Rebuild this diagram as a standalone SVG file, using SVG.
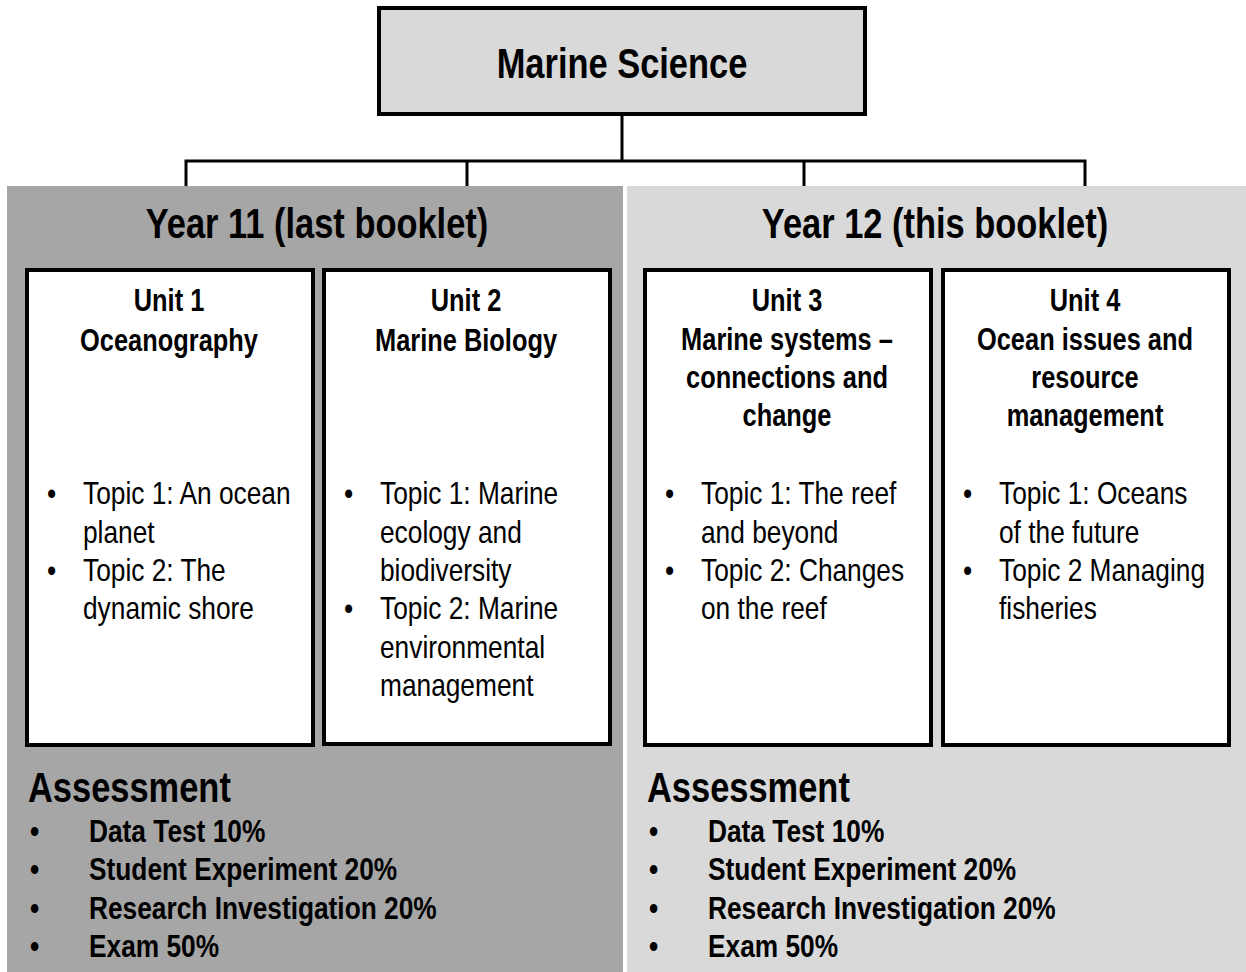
<svg xmlns="http://www.w3.org/2000/svg" width="1246" height="972" viewBox="0 0 1246 972">
<style>
text{font-family:"Liberation Sans",Arial,sans-serif;fill:#000}
.big{font-size:42px;font-weight:bold}
.mid{text-anchor:middle}
.hd{font-size:31px;font-weight:bold;text-anchor:middle}
.tp{font-size:31.5px}
.it{font-size:31.5px;font-weight:bold}
.box{fill:#fff;stroke:#000;stroke-width:4}
.con{stroke:#000;stroke-width:3;fill:none}
</style>
<rect x="0" y="0" width="1246" height="972" fill="#fff"/>
<g id="panel-year11">
<rect x="7" y="186" width="616" height="786" fill="#a6a6a6"/>
<text class="big mid" transform="translate(317 238) scale(0.82 1)">Year 11 (last booklet)</text>
</g>
<g id="panel-year12">
<rect x="627" y="186" width="619" height="786" fill="#d9d9d9"/>
<text class="big mid" transform="translate(935 238) scale(0.82 1)">Year 12 (this booklet)</text>
</g>
<g id="connectors">
<path class="con" d="M622 114V161M186 186V161H1085V186M467 161V186M804 161V186"/>
</g>
<g id="marine-science">
<rect x="379" y="8" width="486" height="106" fill="#d9d9d9" stroke="#000" stroke-width="4"/>
<text class="big mid" transform="translate(622 78) scale(0.82 1)">Marine Science</text>
</g>
<g id="unit1">
<rect class="box" x="27" y="270" width="286" height="475"/>
<text class="hd" transform="translate(169 311) scale(0.82 1)">Unit 1</text>
<text class="hd" transform="translate(169 351) scale(0.82 1)">Oceanography</text>
<text class="tp" transform="translate(47 504) scale(0.835 1)">•</text>
<text class="tp" transform="translate(83 504) scale(0.835 1)">Topic 1: An ocean</text>
<text class="tp" transform="translate(83 543) scale(0.835 1)">planet</text>
<text class="tp" transform="translate(47 581) scale(0.835 1)">•</text>
<text class="tp" transform="translate(83 581) scale(0.835 1)">Topic 2: The</text>
<text class="tp" transform="translate(83 619) scale(0.835 1)">dynamic shore</text>
</g>
<g id="unit2">
<rect class="box" x="324" y="270" width="286" height="474"/>
<text class="hd" transform="translate(466 311) scale(0.82 1)">Unit 2</text>
<text class="hd" transform="translate(466 351) scale(0.82 1)">Marine Biology</text>
<text class="tp" transform="translate(344 504) scale(0.835 1)">•</text>
<text class="tp" transform="translate(380 504) scale(0.835 1)">Topic 1: Marine</text>
<text class="tp" transform="translate(380 543) scale(0.835 1)">ecology and</text>
<text class="tp" transform="translate(380 581) scale(0.835 1)">biodiversity</text>
<text class="tp" transform="translate(344 619) scale(0.835 1)">•</text>
<text class="tp" transform="translate(380 619) scale(0.835 1)">Topic 2: Marine</text>
<text class="tp" transform="translate(380 658) scale(0.835 1)">environmental</text>
<text class="tp" transform="translate(380 696) scale(0.835 1)">management</text>
</g>
<g id="unit3">
<rect class="box" x="645" y="270" width="286" height="475"/>
<text class="hd" transform="translate(787 311) scale(0.82 1)">Unit 3</text>
<text class="hd" transform="translate(787 350) scale(0.82 1)">Marine systems –</text>
<text class="hd" transform="translate(787 388) scale(0.82 1)">connections and</text>
<text class="hd" transform="translate(787 426) scale(0.82 1)">change</text>
<text class="tp" transform="translate(665 504) scale(0.835 1)">•</text>
<text class="tp" transform="translate(701 504) scale(0.835 1)">Topic 1: The reef</text>
<text class="tp" transform="translate(701 543) scale(0.835 1)">and beyond</text>
<text class="tp" transform="translate(665 581) scale(0.835 1)">•</text>
<text class="tp" transform="translate(701 581) scale(0.835 1)">Topic 2: Changes</text>
<text class="tp" transform="translate(701 619) scale(0.835 1)">on the reef</text>
</g>
<g id="unit4">
<rect class="box" x="943" y="270" width="286" height="475"/>
<text class="hd" transform="translate(1085 311) scale(0.82 1)">Unit 4</text>
<text class="hd" transform="translate(1085 350) scale(0.82 1)">Ocean issues and</text>
<text class="hd" transform="translate(1085 388) scale(0.82 1)">resource</text>
<text class="hd" transform="translate(1085 426) scale(0.82 1)">management</text>
<text class="tp" transform="translate(963 504) scale(0.835 1)">•</text>
<text class="tp" transform="translate(999 504) scale(0.835 1)">Topic 1: Oceans</text>
<text class="tp" transform="translate(999 543) scale(0.835 1)">of the future</text>
<text class="tp" transform="translate(963 581) scale(0.835 1)">•</text>
<text class="tp" transform="translate(999 581) scale(0.835 1)">Topic 2 Managing</text>
<text class="tp" transform="translate(999 619) scale(0.835 1)">fisheries</text>
</g>
<g id="assessment-year11">
<text class="big" transform="translate(28 802) scale(0.82 1)">Assessment</text>
<text class="it" transform="translate(30 842) scale(0.835 1)">•</text><text class="it" transform="translate(89 842) scale(0.835 1)">Data Test 10%</text>
<text class="it" transform="translate(30 880) scale(0.835 1)">•</text><text class="it" transform="translate(89 880) scale(0.835 1)">Student Experiment 20%</text>
<text class="it" transform="translate(30 919) scale(0.835 1)">•</text><text class="it" transform="translate(89 919) scale(0.835 1)">Research Investigation 20%</text>
<text class="it" transform="translate(30 957) scale(0.835 1)">•</text><text class="it" transform="translate(89 957) scale(0.835 1)">Exam 50%</text>
</g>
<g id="assessment-year12">
<text class="big" transform="translate(647 802) scale(0.82 1)">Assessment</text>
<text class="it" transform="translate(649 842) scale(0.835 1)">•</text><text class="it" transform="translate(708 842) scale(0.835 1)">Data Test 10%</text>
<text class="it" transform="translate(649 880) scale(0.835 1)">•</text><text class="it" transform="translate(708 880) scale(0.835 1)">Student Experiment 20%</text>
<text class="it" transform="translate(649 919) scale(0.835 1)">•</text><text class="it" transform="translate(708 919) scale(0.835 1)">Research Investigation 20%</text>
<text class="it" transform="translate(649 957) scale(0.835 1)">•</text><text class="it" transform="translate(708 957) scale(0.835 1)">Exam 50%</text>
</g>
</svg>
